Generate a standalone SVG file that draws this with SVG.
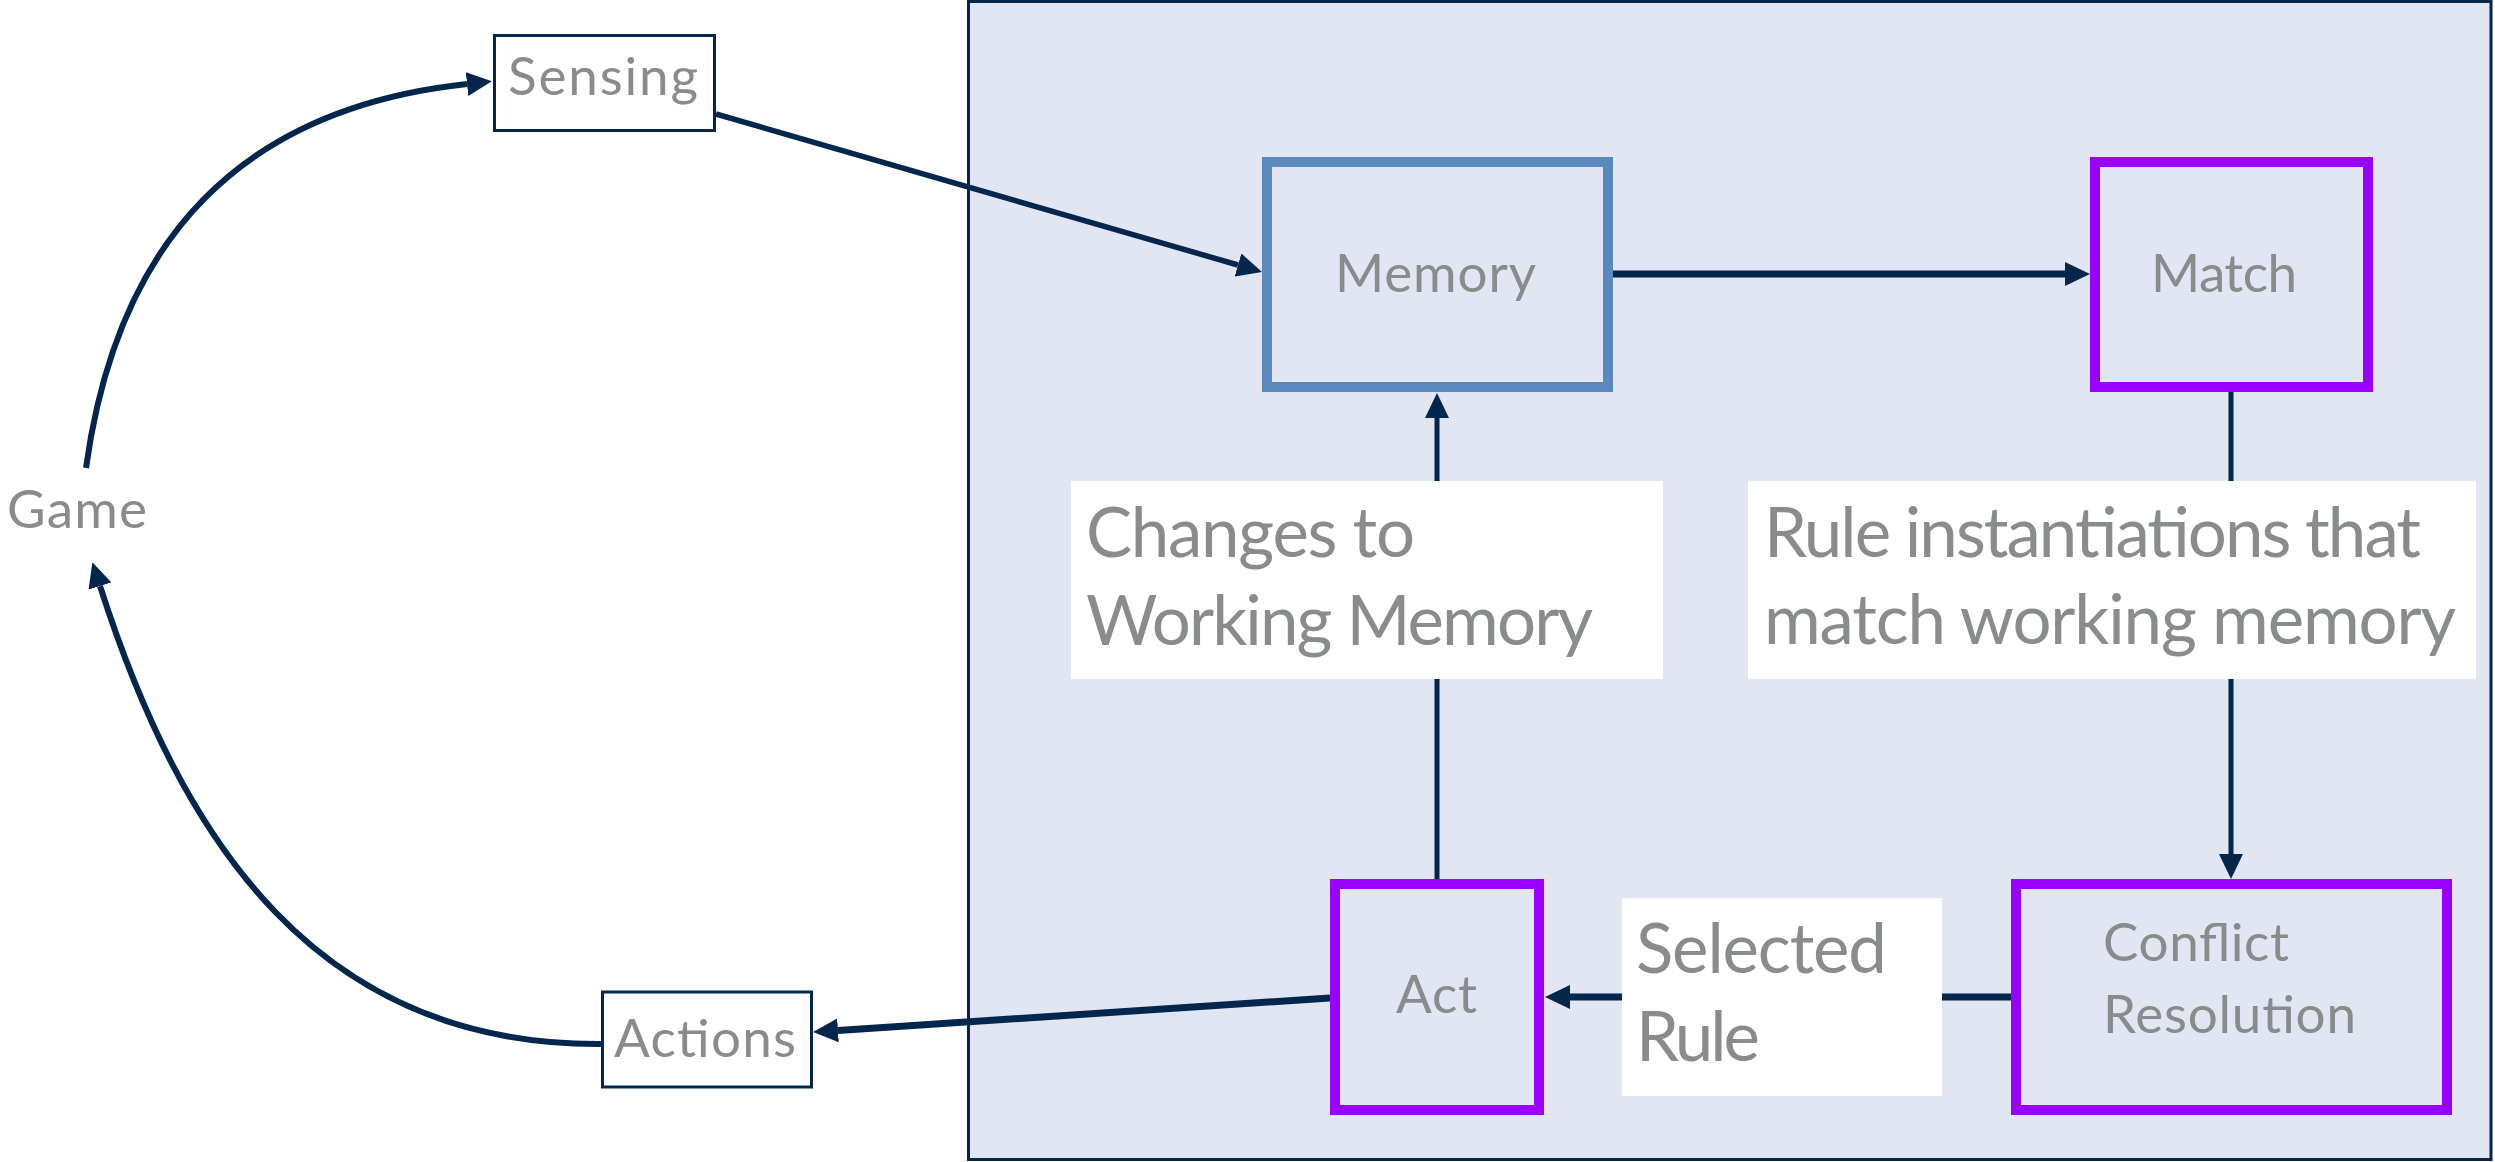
<svg xmlns="http://www.w3.org/2000/svg" width="2495" height="1162" viewBox="0 0 2495 1162">
  <style>
    .txt { font-family: Lato, "Open Sans", "Liberation Sans", sans-serif; fill: #898C8C; }
    .sm { font-size: 53px; }
    .lg { font-size: 69px; }
    .io { fill: #FFFFFF; stroke: #03264C; stroke-width: 3; }
    .mem { fill: none; stroke: #5A8ABD; stroke-width: 10; }
    .rule { fill: none; stroke: #9900FF; stroke-width: 10; }
    .lbl { fill: #FFFFFF; }
    .con { fill: none; stroke: #03264C; }
  </style>
  <defs>
    <marker id="ah" markerUnits="userSpaceOnUse" markerWidth="25" markerHeight="24" viewBox="0 0 25 24" refX="0" refY="12" orient="auto">
      <path d="M0,0 L25,12 L0,24 z" fill="#03264C"/>
    </marker>
  </defs>

  <g id="container">
    <rect x="968.5" y="1.5" width="1522.5" height="1158" fill="#E2E5F2" stroke="#03264C" stroke-width="3"/>
  </g>

  <g id="connectors">
    <path class="con" stroke-width="6" d="M86,468 C118,235 245,108 467,84" marker-end="url(#ah)"/>
    <path class="con" stroke-width="6" d="M601,1044 C318,1046 182,842 100,586" marker-end="url(#ah)"/>
    <path class="con" stroke-width="5.5" d="M716,114 L1238,265" marker-end="url(#ah)"/>
    <path class="con" stroke-width="7" d="M1613,274 L2065,274" marker-end="url(#ah)"/>
    <path class="con" stroke-width="5" d="M2231,392 L2231,854" marker-end="url(#ah)"/>
    <path class="con" stroke-width="5" d="M1437,879 L1437,418" marker-end="url(#ah)"/>
    <path class="con" stroke-width="7" d="M2011,997 L1570,997" marker-end="url(#ah)"/>
    <path class="con" stroke-width="7" d="M1330,998 L838,1030.4" marker-end="url(#ah)"/>
  </g>

  <g id="game">
    <text class="txt sm" x="7" y="528" textLength="140" lengthAdjust="spacing">Game</text>
  </g>

  <g id="sensing">
    <rect class="io" x="494.5" y="35.5" width="220" height="95"/>
    <text class="txt sm" x="508" y="95" textLength="190" lengthAdjust="spacing">Sensing</text>
  </g>

  <g id="actions">
    <rect class="io" x="602.5" y="992" width="209" height="95"/>
    <text class="txt sm" x="614" y="1057" textLength="182" lengthAdjust="spacing">Actions</text>
  </g>

  <g id="memory">
    <rect class="mem" x="1267" y="162" width="341" height="225"/>
    <text class="txt sm" x="1335" y="292" textLength="201" lengthAdjust="spacing">Memory</text>
  </g>

  <g id="match">
    <rect class="rule" x="2095" y="162" width="273" height="225"/>
    <text class="txt sm" x="2151" y="292" textLength="146" lengthAdjust="spacing">Match</text>
  </g>

  <g id="act">
    <rect class="rule" x="1335" y="884" width="204" height="226"/>
    <text class="txt sm" x="1396" y="1013" textLength="81" lengthAdjust="spacing">Act</text>
  </g>

  <g id="conflict-resolution">
    <rect class="rule" x="2016" y="884" width="431" height="226"/>
    <text class="txt sm" x="2103" y="961" textLength="186" lengthAdjust="spacing">Conflict</text>
    <text class="txt sm" x="2103" y="1033" textLength="253" lengthAdjust="spacing">Resolution</text>
  </g>

  <g id="label-changes">
    <rect class="lbl" x="1071" y="481" width="592" height="198"/>
    <text class="txt lg" x="1086" y="557" textLength="329" lengthAdjust="spacing">Changes to</text>
    <text class="txt lg" x="1086" y="645" textLength="507" lengthAdjust="spacing">Working Memory</text>
  </g>

  <g id="label-instantiations">
    <rect class="lbl" x="1748" y="481" width="728" height="198"/>
    <text class="txt lg" x="1764" y="557" textLength="657" lengthAdjust="spacing">Rule instantiations that</text>
    <text class="txt lg" x="1764" y="644" textLength="692" lengthAdjust="spacing">match working memory</text>
  </g>

  <g id="label-selected">
    <rect class="lbl" x="1622" y="898" width="320" height="198"/>
    <text class="txt lg" x="1636" y="973" textLength="251" lengthAdjust="spacing">Selected</text>
    <text class="txt lg" x="1636" y="1061" textLength="124" lengthAdjust="spacing">Rule</text>
  </g>
</svg>
